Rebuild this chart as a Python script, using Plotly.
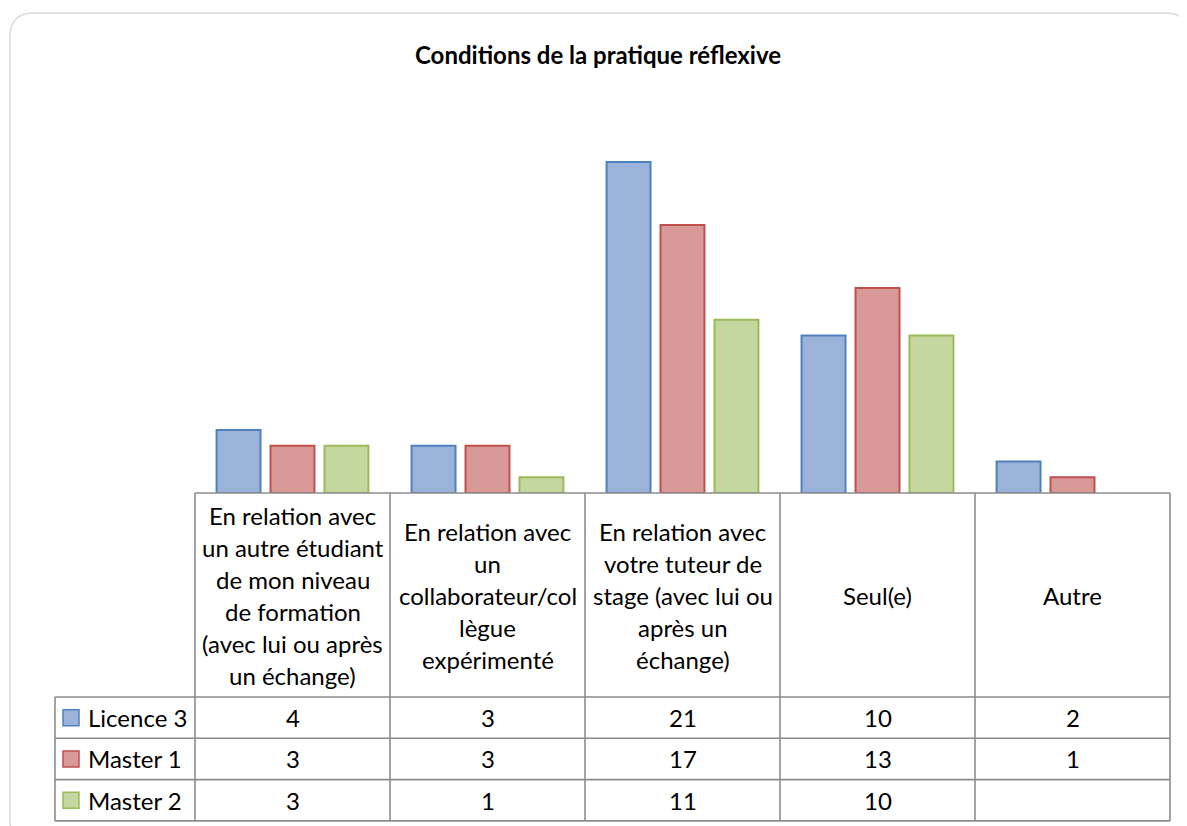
import plotly.graph_objects as go

# ---------------- data ----------------
categories = [
    "En relation avec un autre étudiant de mon niveau de formation (avec lui ou après un échange)",
    "En relation avec un collaborateur/collègue expérimenté",
    "En relation avec votre tuteur de stage (avec lui ou après un échange)",
    "Seul(e)",
    "Autre",
]
# wrapped header lines as displayed in the data table
header_lines = [
    ["En relation avec", "un autre étudiant", "de mon niveau", "de formation", "(avec lui ou après", "un échange)"],
    ["En relation avec", "un", "collaborateur/col", "lègue", "expérimenté"],
    ["En relation avec", "votre tuteur de", "stage (avec lui ou", "après un", "échange)"],
    ["Seul(e)"],
    ["Autre"],
]
series_names = ["Licence 3", "Master 1", "Master 2"]
licence3 = [4, 3, 21, 10, 2]
master1 = [3, 3, 17, 13, 1]
master2 = [3, 1, 11, 10, None]
title_text = "Conditions de la pratique réflexive"

# ---------------- style ----------------
fills = ["#9cb3d9", "#d89a99", "#c4d79f"]
lines = ["#4f81bd", "#c0504d", "#9bbb59"]
FONT = "Lato, Carlito, Calibri, sans-serif"
OFF = 8  # default page body margin
W, H = 1187 - OFF, 826 - OFF
# plot area, in window pixels
L, R, T, B = 195, 1170, 99, 493
GRID = "#8c8c8c"


def xp(px):
    return (px - L) / (R - L)


def yp(py):
    return (B - py) / (B - T)


fig = go.Figure()
for name, vals, fc, lc in zip(series_names, [licence3, master1, master2], fills, lines):
    fig.add_trace(go.Bar(
        x=list(range(len(categories))), y=vals, name=name,
        marker=dict(color=fc, line=dict(color=lc, width=2)),
        hoverinfo="y+name",
    ))

shapes = []
annotations = []

# outer rounded frame
fx0, fy0, fx1, fy1, rr = 10, 13, 1189, 845, 24
path = (f"M {xp(fx0 + rr)} {yp(fy0)} L {xp(fx1 - rr)} {yp(fy0)} "
        f"Q {xp(fx1)} {yp(fy0)} {xp(fx1)} {yp(fy0 + rr)} "
        f"L {xp(fx1)} {yp(fy1 - rr)} Q {xp(fx1)} {yp(fy1)} {xp(fx1 - rr)} {yp(fy1)} "
        f"L {xp(fx0 + rr)} {yp(fy1)} Q {xp(fx0)} {yp(fy1)} {xp(fx0)} {yp(fy1 - rr)} "
        f"L {xp(fx0)} {yp(fy0 + rr)} Q {xp(fx0)} {yp(fy0)} {xp(fx0 + rr)} {yp(fy0)} Z")
shapes.append(dict(type="path", path=path, xref="paper", yref="paper",
                   line=dict(color="#d9d9d9", width=1.5), layer="below"))

# data table geometry
ncat = len(categories)
colw = (R - L) / ncat
tab_left = 55
hdr_top, hdr_bot = 493, 697
row_h = 41.3
row_tops = [hdr_bot + i * row_h for i in range(len(series_names) + 1)]
tab_bot = row_tops[-1]


def hline(x0, x1, y):
    shapes.append(dict(type="line", xref="paper", yref="paper",
                       x0=xp(x0), x1=xp(x1), y0=yp(y), y1=yp(y),
                       line=dict(color=GRID, width=1.6)))


def vline(x, y0, y1):
    shapes.append(dict(type="line", xref="paper", yref="paper",
                       x0=xp(x), x1=xp(x), y0=yp(y0), y1=yp(y1),
                       line=dict(color=GRID, width=1.6)))


hline(L, R, hdr_top)
for y in row_tops:
    hline(tab_left, R, y)
for i in range(ncat + 1):
    vline(L + i * colw, hdr_top, tab_bot)
vline(tab_left, hdr_bot, tab_bot)

FS = 24
# header text
line_h = 32
for i, lns in enumerate(header_lines):
    cx = L + (i + 0.5) * colw
    cy = (hdr_top + hdr_bot) / 2
    n = len(lns)
    for j, t in enumerate(lns):
        y = cy + (j - (n - 1) / 2) * line_h
        annotations.append(dict(text=t, x=xp(cx), y=yp(y), xref="paper", yref="paper",
                                xanchor="center", yanchor="middle", showarrow=False,
                                font=dict(family=FONT, size=FS, color="black")))

# value rows + legend keys
for r, (name, vals, fc, lc) in enumerate(zip(series_names, [licence3, master1, master2], fills, lines)):
    cy = row_tops[r] + row_h / 2
    k = 16
    kx0 = 63
    shapes.append(dict(type="rect", xref="paper", yref="paper",
                       x0=xp(kx0), x1=xp(kx0 + k), y0=yp(cy - k / 2), y1=yp(cy + k / 2),
                       fillcolor=fc, line=dict(color=lc, width=1.5)))
    annotations.append(dict(text=name, x=xp(86), y=yp(cy), xref="paper", yref="paper",
                            xanchor="left", yanchor="middle", showarrow=False,
                            font=dict(family=FONT, size=FS, color="black")))
    for i, v in enumerate(vals):
        if v is None:
            continue
        cx = L + (i + 0.5) * colw
        annotations.append(dict(text=str(v), x=xp(cx), y=yp(cy), xref="paper", yref="paper",
                                xanchor="center", yanchor="middle", showarrow=False,
                                font=dict(family=FONT, size=FS, color="black")))

# title
annotations.append(dict(text=f"<b>{title_text}</b>", x=xp(598), y=yp(54), xref="paper", yref="paper",
                        xanchor="center", yanchor="middle", showarrow=False,
                        font=dict(family=FONT, size=24, color="black")))

fig.update_layout(
    width=W, height=H,
    margin=dict(l=L - OFF, r=W - (R - OFF), t=T - OFF, b=H - (B - OFF), pad=0),
    paper_bgcolor="white", plot_bgcolor="white",
    barmode="group", bargap=0.17, bargroupgap=0.185,
    showlegend=False,
    xaxis=dict(visible=False, range=[-0.5, ncat - 0.5]),
    yaxis=dict(visible=False, range=[0, 25]),
    shapes=shapes, annotations=annotations,
    font=dict(family=FONT),
)

fig.write_html("out.html")
